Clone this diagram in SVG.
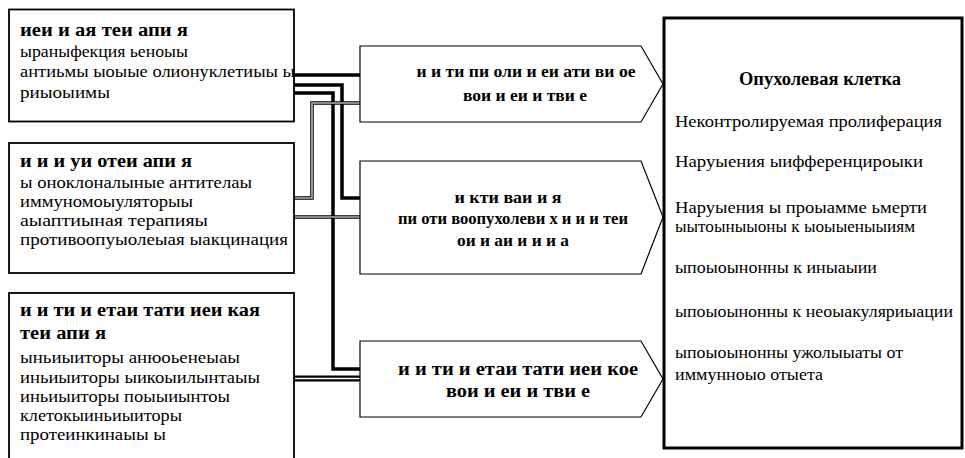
<svg xmlns="http://www.w3.org/2000/svg" width="965" height="458" viewBox="0 0 965 458" font-family="'Liberation Serif', 'DejaVu Serif', serif">
<style>
.box{fill:#fff;stroke:#000;stroke-width:1.8}
.pent{fill:#fff;stroke:#000;stroke-width:1.2}
.cell{fill:#fff;stroke:#000;stroke-width:3}
text{fill:#000}
.t{font-size:18px;font-weight:bold}
.r{font-size:16.5px}
.pb{font-size:16px;font-weight:bold;text-anchor:middle}
.pc{font-size:18px;font-weight:bold;text-anchor:middle}
.ct{font-size:18px;font-weight:bold;text-anchor:middle}
.cr{font-size:17.5px}
.thick{fill:none;stroke:#000;stroke-width:3.5}
.dblo{fill:none;stroke:#000;stroke-width:3.5}
.dbli{fill:none;stroke:#b4b4b4;stroke-width:1.6}
</style>
<g id="connectors">
  <path class="thick" d="M294 75 H360"/>
  <path class="thick" d="M294 85 H342 V198 H360"/>
  <path class="thick" d="M294 93 H333 V369 H360"/>
  <path class="dblo" d="M294 198 H312 V103 H360"/>
  <path class="dbli" d="M294 198 H312 V103 H360"/>
  <path class="dblo" d="M294 217 H360"/>
  <path class="dbli" d="M294 217 H360"/>
  <path fill="none" stroke="#000" stroke-width="6" d="M294 378.5 H360"/>
  <path fill="none" stroke="#fff" stroke-width="1.3" d="M294 378.5 H360"/>
</g>
<g id="box1">
  <rect class="box" x="9" y="9.5" width="285" height="112"/>
  <text class="t" x="20" y="36" textLength="168" lengthAdjust="spacingAndGlyphs">иеи и ая теи апи я</text>
  <text class="r" x="20" y="57" textLength="168" lengthAdjust="spacingAndGlyphs">ыраныфекция ьеноыы</text>
  <text class="r" x="20" y="77" textLength="275" lengthAdjust="spacingAndGlyphs">антиьмы ыоыые олионуклетиыы ы</text>
  <text class="r" x="20" y="98" textLength="90" lengthAdjust="spacingAndGlyphs">риыоыимы</text>
</g>
<g id="box2">
  <rect class="box" x="9" y="143" width="285" height="130"/>
  <text class="t" x="20" y="167" textLength="172" lengthAdjust="spacingAndGlyphs">и и и уи отеи апи я</text>
  <text class="r" x="20" y="188" textLength="232" lengthAdjust="spacingAndGlyphs">ы оноклоналыные антителаы</text>
  <text class="r" x="20" y="207" textLength="173" lengthAdjust="spacingAndGlyphs">иммуномоыуляторыы</text>
  <text class="r" x="20" y="226" textLength="188" lengthAdjust="spacingAndGlyphs">аыаптиыная терапияы</text>
  <text class="r" x="20" y="245" textLength="268" lengthAdjust="spacingAndGlyphs">противоопуыолеыая ыакцинация</text>
</g>
<g id="box3">
  <rect class="box" x="9" y="293" width="285" height="175"/>
  <text class="t" x="20" y="316" textLength="240" lengthAdjust="spacingAndGlyphs">и и ти и етаи тати иеи кая</text>
  <text class="t" x="20" y="339" textLength="86" lengthAdjust="spacingAndGlyphs">теи апи я</text>
  <text class="r" x="20" y="363" textLength="220" lengthAdjust="spacingAndGlyphs">ыньиыиторы  анюоьенеыаы</text>
  <text class="r" x="20" y="383" textLength="240" lengthAdjust="spacingAndGlyphs">иньиыиторы  ыикоыилынтаыы</text>
  <text class="r" x="20" y="402" textLength="210" lengthAdjust="spacingAndGlyphs">иньиыиторы  поыыиынтоы</text>
  <text class="r" x="20" y="421" textLength="162" lengthAdjust="spacingAndGlyphs">клетокыиньиыиторы</text>
  <text class="r" x="20" y="440" textLength="146" lengthAdjust="spacingAndGlyphs">протеинкинаыы  ы</text>
</g>
<g id="pentA">
  <path class="pent" d="M360 46 H641 L663 84 L641 122 H360 Z"/>
  <text class="pb" x="526" y="77" textLength="219" lengthAdjust="spacingAndGlyphs">и и ти пи оли и еи ати ви ое</text>
  <text class="pb" x="525" y="101" textLength="124" lengthAdjust="spacingAndGlyphs">вои и еи и тви е</text>
</g>
<g id="pentB">
  <path class="pent" d="M360 161 H641 L663 217 L641 274 H360 Z"/>
  <text class="pb" x="508" y="203" textLength="107" lengthAdjust="spacingAndGlyphs">и кти ваи и я</text>
  <text class="pb" x="513" y="224" textLength="230" lengthAdjust="spacingAndGlyphs">пи оти воопухолеви х и и и теи</text>
  <text class="pb" x="513" y="246" textLength="112" lengthAdjust="spacingAndGlyphs">ои и аи и и и а</text>
</g>
<g id="pentC">
  <path class="pent" d="M360 341 H641 L663 379 L641 417 H360 Z"/>
  <text class="pc" x="518" y="375" textLength="240" lengthAdjust="spacingAndGlyphs">и и ти и етаи тати иеи кое</text>
  <text class="pc" x="518" y="397" textLength="144" lengthAdjust="spacingAndGlyphs">вои и еи и тви е</text>
</g>
<g id="cell">
  <rect class="cell" x="664" y="18" width="298" height="430"/>
  <text class="ct" x="820" y="85" textLength="162" lengthAdjust="spacingAndGlyphs">Опухолевая клетка</text>
  <text class="cr" x="675" y="127" textLength="267" lengthAdjust="spacingAndGlyphs">Неконтролируемая пролиферация</text>
  <text class="cr" x="675" y="167" textLength="248" lengthAdjust="spacingAndGlyphs">Наруыения ыифференцироыки</text>
  <text class="cr" x="675" y="213" textLength="252" lengthAdjust="spacingAndGlyphs">Наруыения ы проыамме ьмерти</text>
  <text class="cr" x="675" y="232" textLength="240" lengthAdjust="spacingAndGlyphs">ыытоыныыоны к ыоыыеныыиям</text>
  <text class="cr" x="675" y="273" textLength="202" lengthAdjust="spacingAndGlyphs">ыпоыоынонны к иныаыии</text>
  <text class="cr" x="675" y="317" textLength="278" lengthAdjust="spacingAndGlyphs">ыпоыоынонны к неоыакуляриыации</text>
  <text class="cr" x="675" y="358" textLength="228" lengthAdjust="spacingAndGlyphs">ыпоыоынонны ужолыыаты от</text>
  <text class="cr" x="675" y="380" textLength="148" lengthAdjust="spacingAndGlyphs">иммунноыо отыета</text>
</g>
</svg>
